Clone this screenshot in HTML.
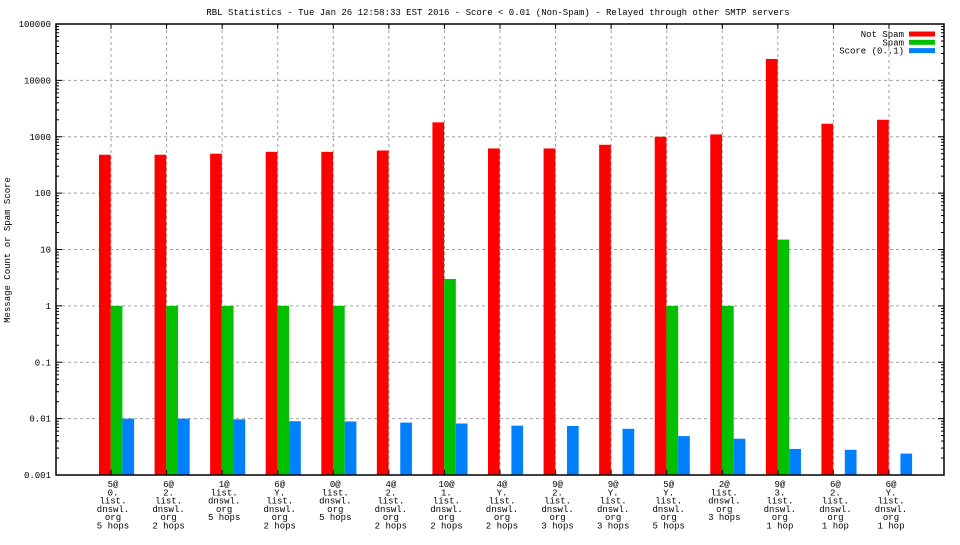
<!DOCTYPE html>
<html><head><meta charset="utf-8"><style>
body{margin:0;background:#fff;}
svg text{font-family:"Liberation Mono","DejaVu Sans Mono",monospace;font-size:9px;fill:#000;}
</style></head><body>
<svg id="chart" width="960" height="540" xmlns="http://www.w3.org/2000/svg">
<text x="498" y="15" text-anchor="middle">RBL Statistics - Tue Jan 26 12:58:33 EST 2016 - Score &lt; 0.01 (Non-Spam) - Relayed through other SMTP servers</text>
<text transform="translate(10,250) rotate(-90)" text-anchor="middle">Message Count or Spam Score</text>
<g id="grid"></g><g id="bars"></g><g id="axes"></g><g id="legend"></g>
</svg>
<script>
const categories=[["5@","0.","list.","dnswl.","org","5 hops"],["6@","2.","list.","dnswl.","org","2 hops"],["1@","list.","dnswl.","org","5 hops"],["6@","Y.","list.","dnswl.","org","2 hops"],["0@","list.","dnswl.","org","5 hops"],["4@","2.","list.","dnswl.","org","2 hops"],["10@","1.","list.","dnswl.","org","2 hops"],["4@","Y.","list.","dnswl.","org","2 hops"],["9@","2.","list.","dnswl.","org","3 hops"],["9@","Y.","list.","dnswl.","org","3 hops"],["5@","Y.","list.","dnswl.","org","5 hops"],["2@","list.","dnswl.","org","3 hops"],["9@","3.","list.","dnswl.","org","1 hop"],["6@","2.","list.","dnswl.","org","1 hop"],["6@","Y.","list.","dnswl.","org","1 hop"]];
const notSpam=[480,480,500,540,540,570,1800,620,620,720,1000,1100,24000,1700,2000];
const spam=[1,1,1,1,1,0,3,0,0,0,1,1,15,0,0];
const score=[0.0100,0.0100,0.0097,0.0090,0.0089,0.0085,0.0082,0.0075,0.0074,0.0066,0.0049,0.0044,0.0029,0.0028,0.0024];
const yTickLabels=["0.001","0.01","0.1","1","10","100","1000","10000","100000"];
const seriesNames=["Not Spam","Spam","Score (0..1)"];
const colors=["#ff0000","#00c000","#0080ff"];
const NS="http://www.w3.org/2000/svg";
const L=56,R=944,T=24,B=475;
function y(v){return B-(Math.log10(v)+3)/8*(B-T);}
function xg(i){return 111+i*(877-99)/14;}
function mk(t,a,p){const e=document.createElementNS(NS,t);for(const k in a)e.setAttribute(k,a[k]);(p||document.getElementById('chart')).appendChild(e);return e;}
const grid=document.getElementById('grid'),bars=document.getElementById('bars'),axes=document.getElementById('axes'),legend=document.getElementById('legend');
yTickLabels.forEach((lab,k)=>{const v=parseFloat(lab),yy=y(v);
 if(k>0&&k<8){const g=mk('line',{x1:L,x2:R,y1:yy,y2:yy,stroke:'#a0a0a0','stroke-dasharray':'3,3'},grid);}
 const t=mk('text',{x:L-5,y:yy+3,'text-anchor':'end'},axes);t.textContent=lab;
 mk('line',{x1:L,x2:L+6,y1:yy,y2:yy,stroke:'#000'},axes);mk('line',{x1:R,x2:R-6,y1:yy,y2:yy,stroke:'#000'},axes);
 if(k<8)for(let m=2;m<10;m++){const ym=y(v*m);mk('line',{x1:L,x2:L+3,y1:ym,y2:ym,stroke:'#000'},axes);mk('line',{x1:R,x2:R-3,y1:ym,y2:ym,stroke:'#000'},axes);}
});
categories.forEach((lines,i)=>{const g=xg(i);
 const vl=mk('line',{x1:g,x2:g,y1:T,y2:B,stroke:'#a0a0a0','stroke-dasharray':'3,3'},grid);
 mk('line',{x1:g,x2:g,y1:B,y2:B-5,stroke:'#000'},axes);mk('line',{x1:g,x2:g,y1:T,y2:T+5,stroke:'#000'},axes);
 [notSpam[i],spam[i],score[i]].forEach((v,s)=>{if(!(v>0))return;const x0=g-12+s*11.7,yy=y(v);
  const r=mk('rect',{x:x0,y:yy,width:11.7,height:B-yy,fill:colors[s]},bars);
  });
 const t=mk('text',{'text-anchor':'middle'},axes);
 lines.forEach((ln,j)=>{const ts=mk('tspan',{x:g+2,y:487+j*8.3},t);ts.textContent=ln;});
});
const fr=mk('rect',{x:L,y:T,width:R-L,height:B-T,fill:'none',stroke:'#000','stroke-width':1.5},axes);
seriesNames.forEach((n,s)=>{const yy=34+s*8.3;
 const t=mk('text',{x:904,y:yy+3,'text-anchor':'end'},legend);t.textContent=n;
 const r=mk('rect',{x:909,y:yy-2.5,width:26,height:5,fill:colors[s]},legend);});
</script>
</body></html>
